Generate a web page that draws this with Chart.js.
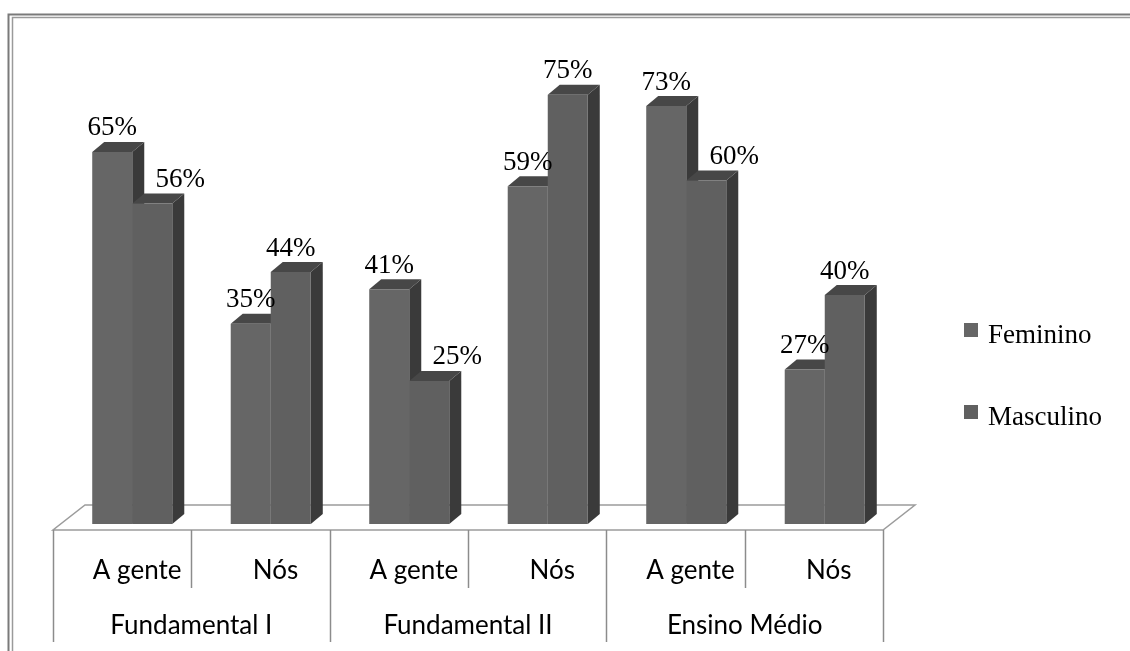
<!DOCTYPE html>
<html>
<head>
<meta charset="utf-8">
<title>A gente / Nós</title>
<script src="https://cdn.jsdelivr.net/npm/chart.js@4/dist/chart.umd.min.js"></script>
<style>
  html, body { margin: 0; padding: 0; background: #fff; }
  canvas { display: block; }
</style>
</head>
<body>
<canvas id="grafico" width="1130" height="651"></canvas>
<script>
// categorias e valores (%)
const grupos = ['Fundamental I', 'Fundamental II', 'Ensino Médio'];
const formas = ['A gente', 'Nós', 'A gente', 'Nós', 'A gente', 'Nós'];
const feminino = [65, 35, 41, 59, 73, 27];
const masculino = [56, 44, 25, 75, 60, 40];

// profundidade das barras e do piso
const PROF = { dx: 12, dy: -10 };
const PISO = { dx: 32, dy: -25 };

const SERIF = '"Liberation Serif", "Times New Roman", serif';
const SANS = 'Lato, "Open Sans", sans-serif';

// moldura, piso e tabela de rótulos
const fundo = {
  id: 'fundo',
  beforeDraw(chart) {
    const ctx = chart.ctx;
    const area = chart.chartArea;
    ctx.save();
    ctx.fillStyle = '#fff';
    ctx.fillRect(0, 0, chart.width, chart.height);

    // moldura dupla
    ctx.lineWidth = 2;
    ctx.strokeStyle = '#7a7a7a';
    ctx.beginPath();
    ctx.moveTo(8.5, chart.height);
    ctx.lineTo(8.5, 14.5);
    ctx.lineTo(chart.width, 14.5);
    ctx.stroke();
    ctx.lineWidth = 1.5;
    ctx.strokeStyle = '#9a9a9a';
    ctx.beginPath();
    ctx.moveTo(12.5, chart.height);
    ctx.lineTo(12.5, 17.5);
    ctx.lineTo(chart.width, 17.5);
    ctx.stroke();

    // piso
    const x0 = area.left - 10, x1 = area.right - 11, yf = area.bottom + 6;
    ctx.lineWidth = 1.5;
    ctx.strokeStyle = '#9c9c9c';
    ctx.beginPath();
    ctx.moveTo(x0, yf);
    ctx.lineTo(x1, yf);
    ctx.lineTo(x1 + PISO.dx, yf + PISO.dy);
    ctx.lineTo(x0 + PISO.dx, yf + PISO.dy);
    ctx.closePath();
    ctx.stroke();

    // linhas da tabela
    const n = formas.length;
    const cw = (x1 - x0) / n;
    ctx.strokeStyle = '#8c8c8c';
    for (let k = 0; k <= n; k++) {
      const x = Math.round(x0 + k * cw) + 0.5;
      const fim = (k % 2 === 0) ? 642 : 588;
      ctx.beginPath();
      ctx.moveTo(x, yf);
      ctx.lineTo(x, fim);
      ctx.stroke();
    }

    // rótulos
    ctx.fillStyle = '#000';
    ctx.font = '26px ' + SANS;
    ctx.textAlign = 'center';
    ctx.textBaseline = 'alphabetic';
    formas.forEach((f, i) => {
      ctx.fillText(f, x0 + (i + 0.5) * cw + 15, 579);
    });
    grupos.forEach((g, j) => {
      ctx.fillText(g, x0 + (j + 0.5) * 2 * cw, 634);
    });
    ctx.restore();
  },

  // faces laterais e superiores das barras
  beforeDatasetsDraw(chart) {
    const ctx = chart.ctx;
    ctx.save();
    const metas = chart.data.datasets.map((d, i) => chart.getDatasetMeta(i));
    for (let i = 0; i < formas.length; i++) {
      metas.forEach(meta => {
        const b = meta.data[i].getProps(['x', 'y', 'base', 'width'], true);
        const l = b.x - b.width / 2, r = b.x + b.width / 2;
        ctx.fillStyle = '#3a3a3a';
        ctx.beginPath();
        ctx.moveTo(r, b.y);
        ctx.lineTo(r + PROF.dx, b.y + PROF.dy);
        ctx.lineTo(r + PROF.dx, b.base + PROF.dy);
        ctx.lineTo(r, b.base);
        ctx.closePath();
        ctx.fill();
        ctx.fillStyle = '#474747';
        ctx.beginPath();
        ctx.moveTo(l, b.y);
        ctx.lineTo(r, b.y);
        ctx.lineTo(r + PROF.dx, b.y + PROF.dy);
        ctx.lineTo(l + PROF.dx, b.y + PROF.dy);
        ctx.closePath();
        ctx.fill();
      });
    }
    ctx.restore();
  },

  // valores e legenda
  afterDatasetsDraw(chart) {
    const ctx = chart.ctx;
    ctx.save();
    ctx.fillStyle = '#000';
    ctx.font = '27px ' + SERIF;
    ctx.textAlign = 'center';
    ctx.textBaseline = 'alphabetic';
    chart.data.datasets.forEach((ds, d) => {
      const meta = chart.getDatasetMeta(d);
      meta.data.forEach((bar, i) => {
        const b = bar.getProps(['x', 'y'], true);
        // masculino mais baixo que feminino: rótulo afastado para a direita
        const desloc = (d === 1 && masculino[i] < feminino[i]) ? 28 : 0;
        ctx.fillText(ds.data[i] + '%', b.x + desloc, b.y - 16.5);
      });
    });

    const ys = [323, 405];
    ctx.textAlign = 'left';
    chart.data.datasets.forEach((ds, d) => {
      ctx.fillStyle = ds.backgroundColor;
      ctx.fillRect(964, ys[d], 14, 14);
      ctx.fillStyle = '#000';
      ctx.fillText(ds.label, 988, ys[d] + 20);
    });
    ctx.restore();
  }
};

new Chart(document.getElementById('grafico'), {
  type: 'bar',
  data: {
    labels: formas,
    datasets: [
      { label: 'Feminino', data: feminino, backgroundColor: '#666666' },
      { label: 'Masculino', data: masculino, backgroundColor: '#606060' }
    ]
  },
  options: {
    responsive: false,
    devicePixelRatio: 1,
    animation: false,
    events: [],
    categoryPercentage: 0.578,
    barPercentage: 1.0,
    layout: { padding: { left: 63, right: 236, top: 66, bottom: 127 } },
    scales: {
      x: { display: false },
      y: { display: false, min: 0, max: 80 }
    },
    plugins: {
      legend: { display: false },
      tooltip: { enabled: false }
    }
  },
  plugins: [fundo]
});
</script>
</body>
</html>
